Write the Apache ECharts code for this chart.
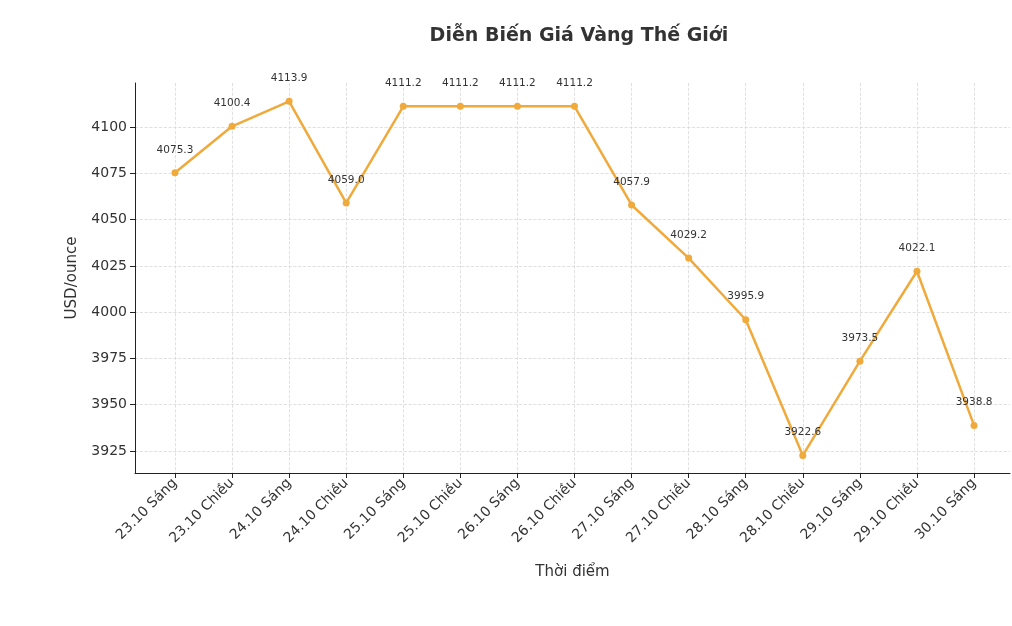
<!DOCTYPE html>
<html>
<head>
<meta charset="UTF-8">
<script src="https://cdn.jsdelivr.net/npm/echarts@6/dist/echarts.min.js"></script>
</head>
<body style="margin:0;background:#fff">
<div id="main" style="width:1012px;height:626px;"></div>
<script>
const categories = ['23.10 Sáng','23.10 Chiều','24.10 Sáng','24.10 Chiều','25.10 Sáng','25.10 Chiều','26.10 Sáng','26.10 Chiều','27.10 Sáng','27.10 Chiều','28.10 Sáng','28.10 Chiều','29.10 Sáng','29.10 Chiều','30.10 Sáng'];
const prices = [4075.3, 4100.4, 4113.9, 4059.0, 4111.2, 4111.2, 4111.2, 4111.2, 4057.9, 4029.2, 3995.9, 3922.6, 3973.5, 4022.1, 3938.8];
const yTicks = [3925, 3950, 3975, 4000, 4025, 4050, 4075, 4100];

const xTicks = categories.map((c, i) => i);
const chart = echarts.init(document.getElementById('main'));
const grid = {show: true, lineStyle: {type: 'dashed', color: '#d8d8d8', width: 0.8}};
chart.setOption({
  animation: false,
  title: {text: 'Diễn Biến Giá Vàng Thế Giới', left: 574, top: 22, textAlign: 'center',
    textStyle: {fontFamily: 'DejaVu Sans', fontSize: 19, fontWeight: 'bold', color: '#333'}},
  grid: {left: 135, right: 2, top: 83, bottom: 153},
  xAxis: {
    type: 'value', min: -0.7, max: 14.63,
    name: 'Thời điểm', nameLocation: 'middle', nameGap: 92,
    nameTextStyle: {fontFamily: 'DejaVu Sans', fontSize: 15, color: '#333'},
    axisLine: {onZero: false, lineStyle: {color: '#222'}},
    axisTick: {customValues: xTicks, lineStyle: {color: '#222'}},
    axisLabel: {customValues: xTicks, rotate: 45, fontFamily: 'DejaVu Sans', fontSize: 14, color: '#333',
      formatter: v => categories[Math.round(v)]},
    splitLine: grid
  },
  yAxis: {
    type: 'value', min: 3913.1, max: 4123.8,
    name: 'USD/ounce', nameLocation: 'middle', nameGap: 55,
    nameTextStyle: {fontFamily: 'DejaVu Sans', fontSize: 15, color: '#333'},
    axisLine: {show: true, onZero: false, lineStyle: {color: '#222'}},
    axisTick: {show: true, customValues: yTicks, lineStyle: {color: '#222'}},
    axisLabel: {customValues: yTicks, fontFamily: 'DejaVu Sans', fontSize: 14, color: '#333',
      formatter: v => String(Math.round(v))},
    splitLine: grid
  },
  series: [{
    type: 'line',
    data: prices.map((v, i) => [i, v]),
    symbol: 'circle', symbolSize: 7,
    lineStyle: {color: '#f0aa3c', width: 2.5},
    itemStyle: {color: '#f0aa3c'},
    label: {show: true, position: 'top', distance: 14, fontFamily: 'DejaVu Sans', fontSize: 10.5, color: '#333',
      formatter: p => p.value[1].toFixed(1)}
  }]
});
</script>
</body>
</html>
